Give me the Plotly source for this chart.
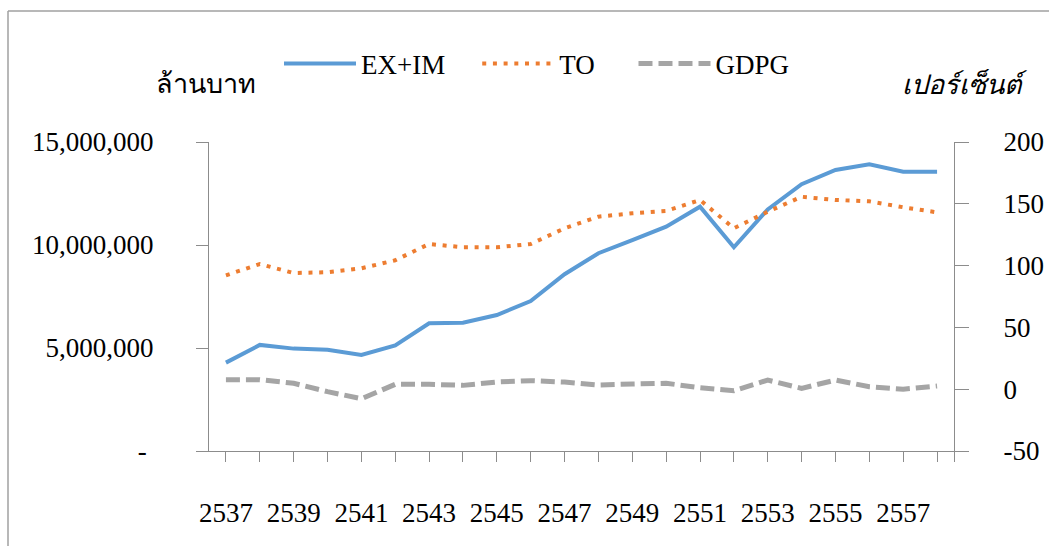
import plotly.graph_objects as go

years = list(range(2537, 2559))
ex_im = [4.29e6, 5.15e6, 4.97e6, 4.92e6, 4.66e6, 5.13e6, 6.20e6, 6.23e6, 6.60e6, 7.28e6, 8.58e6,
         9.60e6, 10.24e6, 10.89e6, 11.86e6, 9.89e6, 11.73e6, 12.95e6, 13.64e6, 13.92e6, 13.56e6, 13.56e6]
to = [92.1, 101.3, 94.0, 94.6, 97.8, 104.3, 117.5, 114.8, 114.8, 117.5, 130.2,
      139.6, 142.3, 144.2, 153.1, 130.2, 143.6, 155.7, 153.1, 152.0, 147.2, 143.1]
gdpg = [7.7, 7.7, 4.8, -2.0, -7.7, 4.0, 4.0, 3.1, 5.8, 6.9, 5.8,
        3.4, 4.2, 4.8, 1.2, -1.2, 7.4, 0.7, 7.4, 2.0, 0.0, 2.6]

left_ticks = [0, 5000000, 10000000, 15000000]
left_labels = ["-\u00a0", "5,000,000", "10,000,000", "15,000,000"]
right_ticks = [-50, 0, 50, 100, 150, 200]
right_labels = ["-50", "0", "50", "100", "150", "200"]
x_labels = [str(y) if (y - 2537) % 2 == 0 else "" for y in years]

FONT = "Liberation Serif, Times New Roman, serif"
AXC = "#8C8C8C"
NB = "\u00a0"

fig = go.Figure()
fig.add_trace(go.Scatter(x=years, y=ex_im, name="EX+IM" + NB * 4, mode="lines",
                         line=dict(color="#5B9BD5", width=4)))
fig.add_trace(go.Scatter(x=years, y=to, name="TO" + NB * 5, mode="lines", yaxis="y2",
                         line=dict(color="#ED7D31", width=4, dash="4px,6.7px")))
fig.add_trace(go.Scatter(x=years, y=gdpg, name="GDPG", mode="lines", yaxis="y2",
                         line=dict(color="#A5A5A5", width=5, dash="14px,6px")))

fig.update_layout(
    width=1049, height=546,
    margin=dict(l=209, r=95, t=142, b=95, autoexpand=False),
    paper_bgcolor="white", plot_bgcolor="white",
    font=dict(family=FONT, size=27, color="black"),
    showlegend=True,
    legend=dict(orientation="h", xref="container", yref="container",
                x=279 / 1049, y=1 - 64 / 546, xanchor="left", yanchor="middle",
                font=dict(size=27, family=FONT), bgcolor="rgba(0,0,0,0)",
                itemwidth=72, tracegroupgap=0),
    xaxis=dict(range=[2536.5, 2558.5], tickmode="array",
               tickvals=years + [2558.5], ticktext=x_labels + [""],
               ticks="outside", ticklen=10, tickcolor=AXC, tickwidth=1,
               showline=True, linecolor=AXC, linewidth=1, showgrid=False,
               zeroline=False, ticklabelstandoff=28, automargin=False,
               tickfont=dict(size=27, family=FONT)),
    yaxis=dict(range=[0, 15000000], tickmode="array", tickvals=left_ticks,
               ticktext=left_labels, ticks="outside", ticklen=12, tickcolor=AXC,
               showline=True, linecolor=AXC, linewidth=1, showgrid=False,
               zeroline=False, ticklabelstandoff=37, automargin=False,
               tickfont=dict(size=27, family=FONT)),
    yaxis2=dict(range=[-50, 200], tickmode="array", tickvals=right_ticks,
                ticktext=right_labels,
                overlaying="y", side="right", ticks="outside", ticklen=14,
                tickcolor=AXC, showline=True, linecolor=AXC, linewidth=1,
                showgrid=False, zeroline=False, ticklabelstandoff=29, automargin=False,
                tickfont=dict(size=27, family=FONT)),
    annotations=[
        dict(text="ล้านบาท", xref="paper", yref="paper", x=(206 - 209) / 745,
             y=(451 - 84) / 309, xanchor="center", yanchor="middle", showarrow=False,
             font=dict(size=27, family=FONT)),
        dict(text="<i>เปอร์เซ็นต์</i>", xref="paper", yref="paper", x=(965 - 209) / 745,
             y=(451 - 84) / 309, xanchor="center", yanchor="middle", showarrow=False,
             font=dict(size=27, family=FONT)),
    ],
    shapes=[
        dict(type="line", xref="paper", yref="paper", x0=(8 - 209) / 745, x1=(1060 - 209) / 745,
             y0=(451 - 11) / 309, y1=(451 - 11) / 309, line=dict(color="#A0A0A0", width=1.5)),
        dict(type="line", xref="paper", yref="paper", x0=(8 - 209) / 745, x1=(8 - 209) / 745,
             y0=(451 - 11) / 309, y1=(451 - 560) / 309, line=dict(color="#A0A0A0", width=1.5)),
    ],
)

fig.write_html("out.html", config={"displayModeBar": False},
               post_script="document.body.style.margin='0';document.body.style.overflow='hidden';")
